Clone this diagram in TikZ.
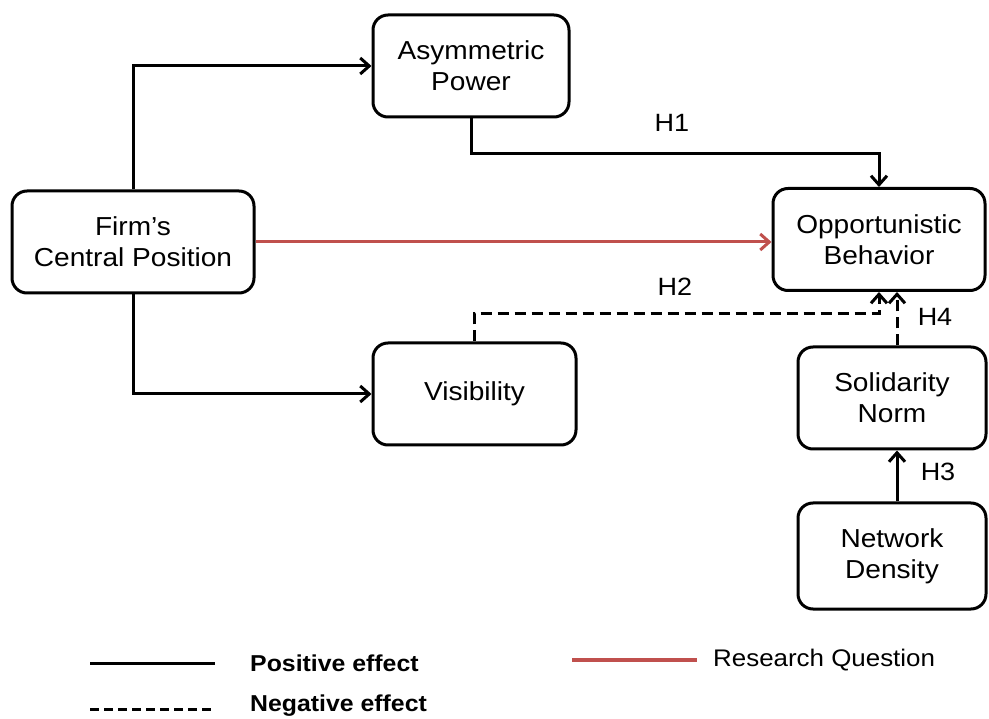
\documentclass[tikz,border=0pt]{standalone}
\usepackage{fontspec}
\setmainfont{Liberation Sans}[FakeStretch=1.08]
\usetikzlibrary{arrows.meta}
\definecolor{rq}{RGB}{192,80,77}
\tikzset{
  box/.style={draw=black, line width=3pt, rounded corners=15pt, align=center,
    inner sep=0pt, font=\fontsize{26}{31}\selectfont},
  conn/.style={line width=3pt, -{Straight Barb[length=9pt,width=16pt,line width=3pt]}},
  negconn/.style={conn, dash pattern=on 11pt off 6pt},
  redconn/.style={conn, draw=rq},
  hlabel/.style={font=\fontsize{25}{30}\selectfont, inner sep=0pt},
  legtext/.style={anchor=west, font=\fontsize{23}{26}\selectfont\bfseries, inner sep=0pt},
}
\begin{document}
\begin{tikzpicture}[x=1pt, y=-1pt]
\useasboundingbox (0,0) rectangle (989,719);
\node[box, minimum width=242pt, minimum height=102pt] (firm) at (133,242) {Firm’s\\Central Position};
\node[box, minimum width=196pt, minimum height=102pt] (asym) at (471,66) {Asymmetric\\Power};
\node[box, minimum width=203pt, minimum height=102pt] (vis) at (474.5,394) {Visibility};
\node[box, minimum width=212pt, minimum height=102pt] (opp) at (879,239.5) {Opportunistic\\Behavior};
\node[box, minimum width=188pt, minimum height=102pt] (sol) at (892,398) {Solidarity\\Norm};
\node[box, minimum width=188pt, minimum height=106pt] (net) at (892,556) {Network\\Density};

\draw[conn] (firm.north) |- (asym.west);
\draw[conn] (firm.south) |- (vis.west);
\draw[redconn] (firm.east) -- (firm.east -| opp.west);
\draw[conn] (asym.south) -- ++(0,35) -| (opp.north);
\draw[negconn] (vis.north) -- ++(0,-28) -| (opp.south);
\draw[negconn] ([xshift=5pt]sol.north) -- ([xshift=5pt]sol.north |- opp.south);
\draw[conn] ([xshift=5pt]net.north) -- ([xshift=5pt]sol.south);

\node[hlabel] (h1) at (672,123) {H1};
\node[hlabel] (h2) at (675,287) {H2};
\node[hlabel] (h4) at (935,317) {H4};
\node[hlabel] (h3) at (938,472) {H3};

\coordinate (pa) at (90,663);
\coordinate (pb) at (215,663);
\coordinate (na) at (90,709);
\coordinate (nb) at (215,709);
\coordinate (ra) at (572,660);
\coordinate (rb) at (697,660);
\draw[line width=3pt] (pa) -- (pb);
\draw[line width=3pt, dash pattern=on 9pt off 5pt] (na) -- (nb);
\draw[line width=4pt, draw=rq] (ra) -- (rb);
\node[legtext] (pt) at (250,663) {Positive effect};
\node[legtext] (nt) at (250,706) {Negative effect};
\node[legtext, font=\fontsize{24}{28}\selectfont] (rt) at (713,660) {Research Question};
\end{tikzpicture}
\end{document}
